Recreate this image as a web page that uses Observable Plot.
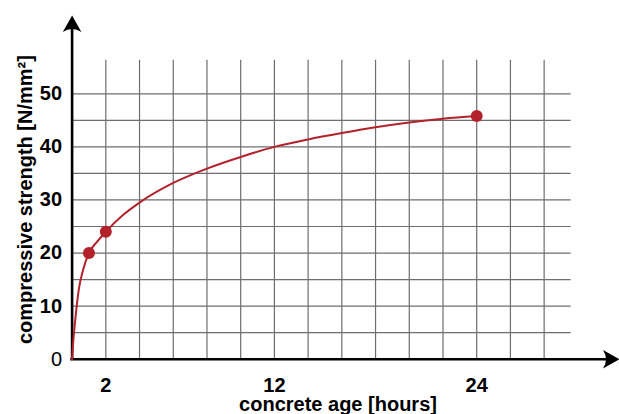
<!DOCTYPE html>
<html><head><meta charset="utf-8">
<script src="https://cdn.jsdelivr.net/npm/d3@7"></script>
<script src="https://cdn.jsdelivr.net/npm/@observablehq/plot@0.6"></script>
<style>html,body{margin:0;padding:0;background:#fff;} #chart svg{display:block;}</style>
</head><body><div id="chart"></div>
<script>
// Curve
const curveHours    = [0, 0.05, 0.15, 0.4, 0.65, 1, 1.5, 2, 3, 4, 6, 8, 10, 12, 14, 16, 18, 20, 22, 24];
const curveStrength = [0, 2.6, 6.2, 13.2, 16.8, 20, 22.2, 24, 27.1, 29.5, 33.2, 35.9, 38.1, 40, 41.4, 42.6, 43.7, 44.6, 45.3, 45.8];
// Measured points
const pointHours    = [1, 2, 24];
const pointStrength = [20, 24, 45.8];
// Ticks and grid
const xTicks = [2, 12, 24];
const yTicks = [0, 10, 20, 30, 40, 50];
const xGrid  = [2, 4, 6, 8, 10, 12, 14, 16, 18, 20, 22, 24, 26, 28];
const yGrid  = [5, 10, 15, 20, 25, 30, 35, 40, 45, 50];
const xTitle = "concrete age [hours]";
const yTitle = "compressive strength [N/mm²]";

const red = "#b3222b";
const font = "'Liberation Sans', Arial, Helvetica, sans-serif";

// arrow head symbol, tip at the origin, pointing up
const arrowHead = {
  draw(ctx) {
    ctx.moveTo(0, 0);
    ctx.lineTo(9.3, 16.5);
    ctx.quadraticCurveTo(0, 10.5, -9.3, 16.5);
    ctx.closePath();
  }
};

const curve = curveHours.map((h, i) => ({h, s: curveStrength[i]}));
const pts = pointHours.map((h, i) => ({h, s: pointStrength[i]}));

function render() {
  const chart = Plot.plot({
    width: 619,
    height: 414,
    marginLeft: 71.6,
    marginRight: 0,
    marginTop: 15,
    marginBottom: 55.3,
    style: {fontFamily: font, background: "#fff", color: "#000"},
    x: {domain: [0, 32.47], axis: null},
    y: {domain: [0, 64.75], axis: null},
    marks: [
      Plot.ruleX(xGrid, {y1: 0, y2: 56.3, stroke: "#6e6e6e", strokeWidth: 1.2}),
      Plot.ruleY(yGrid, {x1: 0, x2: 29.6, stroke: "#6e6e6e", strokeWidth: 1.2}),
      Plot.ruleX([0], {y1: 0, y2: 62.3, stroke: "#000", strokeWidth: 2.6, strokeLinecap: "square"}),
      Plot.ruleY([0], {x1: 0, x2: 31.7, stroke: "#000", strokeWidth: 2.6, strokeLinecap: "square"}),
      Plot.dot([0], {x: 0, y: 64.75, symbol: arrowHead, fill: "#000", stroke: "none"}),
      Plot.dot([0], {x: 32.47, y: 0, symbol: arrowHead, rotate: 90, fill: "#000", stroke: "none"}),
      Plot.line(curve, {x: "h", y: "s", curve: "monotone-x", stroke: red, strokeWidth: 2}),
      Plot.dot(pts, {x: "h", y: "s", r: 6, fill: red, stroke: "none"}),
      Plot.text(yTicks.filter(d => d !== 0), {x: 0, y: d => d, text: d => String(d), dx: -10, textAnchor: "end", lineAnchor: "middle",
        fontSize: 20, fontWeight: 700, fill: "#000"}),
      Plot.text(yTicks.filter(d => d === 0), {x: 0, y: d => d, text: d => String(d), dx: -10, textAnchor: "end", lineAnchor: "middle",
        fontSize: 20, fontWeight: 400, fill: "#000"}),
      Plot.text(xTicks, {x: d => d, y: 0, text: d => String(d), dy: 26.5, lineAnchor: "middle",
        fontSize: 20, fontWeight: 700, fill: "#000"}),
      Plot.text([xTitle], {frameAnchor: "bottom", text: d => d, textAnchor: "middle", dx: -7.8, dy: 51.5, lineAnchor: "bottom",
        fontSize: 20, fontWeight: 700, fill: "#000"}),
      Plot.text([yTitle], {frameAnchor: "left", text: d => d, textAnchor: "middle", rotate: -90, dx: -46.3, dy: 12.2, lineAnchor: "middle",
        fontSize: 20, fontWeight: 700, fill: "#000"})
    ]
  });
  const host = document.getElementById("chart");
  host.replaceChildren(chart);
  // force text layout so the bold face is resolved before the page is captured
  chart.querySelectorAll("text").forEach(t => { getComputedStyle(t).fontWeight; t.getBBox(); });
}

render();
if (document.fonts && document.fonts.load) {
  Promise.all([
    document.fonts.load("700 20px 'Liberation Sans'"),
    document.fonts.load("400 20px 'Liberation Sans'")
  ]).then(render, () => {});
}
</script>
</body></html>
